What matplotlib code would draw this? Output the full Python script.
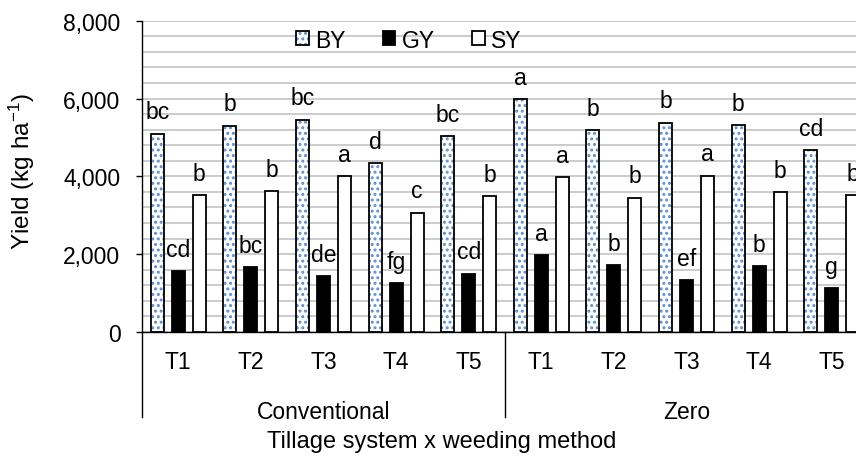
import numpy as np
import matplotlib.pyplot as plt
from matplotlib.patches import Patch

plt.rcParams['font.family'] = ['Liberation Sans', 'DejaVu Sans']
plt.rcParams['mathtext.default'] = 'regular'
plt.rcParams['hatch.linewidth'] = 1.4

# Datos
tillage = ["Conventional", "Zero"]
weeding = ["T1", "T2", "T3", "T4", "T5"]
series = ["BY", "GY", "SY"]

by = [5100, 5300, 5460, 4340, 5030, 5980, 5190, 5380, 5320, 4680]
gy = [1570, 1660, 1440, 1250, 1500, 1980, 1710, 1330, 1700, 1130]
sy = [3520, 3620, 4010, 3070, 3500, 3980, 3450, 4020, 3600, 3520]

by_letters = ["bc", "b", "bc", "d", "bc", "a", "b", "b", "b", "cd"]
gy_letters = ["cd", "bc", "de", "fg", "cd", "a", "b", "ef", "b", "g"]
sy_letters = ["b", "b", "a", "c", "b", "a", "b", "a", "b", "b"]

FS = 16.5
dot_color = "#5b8fd0"
grid_color = "#bfbfbf"

fig = plt.figure(figsize=(8.56, 4.6), dpi=100)
ax = fig.add_axes([142 / 856, 127 / 460, 726 / 856, 311.3 / 460])

x = np.arange(len(by))
w = 0.18
off = [-0.29, 0.0, 0.29]

# BY: puntos azules + borde negro
ax.bar(x + off[0], by, w, color="white", edgecolor=dot_color, hatch="...", linewidth=0, zorder=2)
ax.bar(x + off[0], by, w, color="none", edgecolor="black", linewidth=1.3, zorder=3)
ax.bar(x + off[1], gy, w, color="black", edgecolor="black", linewidth=1.3, zorder=3)
ax.bar(x + off[2], sy, w, color="white", edgecolor="black", linewidth=1.3, zorder=3)

# Letras de significancia
for vals, labs, o in [(by, by_letters, off[0]), (gy, gy_letters, off[1]), (sy, sy_letters, off[2])]:
    for i, (v, lab) in enumerate(zip(vals, labs)):
        ax.annotate(lab, (i + o, v), xytext=(0, 11), textcoords="offset points",
                    ha="center", va="baseline", fontsize=FS, zorder=4)

ax.set_xlim(-0.5, 9.5)
ax.set_ylim(0, 8000)
ax.set_yticks(np.arange(0, 8001, 2000))
ax.set_yticks(np.arange(0, 8001, 400), minor=True)
ax.set_yticklabels([f"{v:,}" for v in range(0, 8001, 2000)], fontsize=FS)
ax.tick_params(axis="y", which="major", length=4.5, width=1, pad=11)
ax.tick_params(axis="y", which="minor", length=0)
ax.grid(axis="y", which="both", color=grid_color, linewidth=1.1)
ax.set_axisbelow(True)

ax.set_xticks([])
for s in ["top", "right"]:
    ax.spines[s].set_visible(False)
ax.spines["left"].set_linewidth(1)
ax.spines["bottom"].set_linewidth(1)

# Eje de categorías en dos niveles
tr = ax.get_xaxis_transform()
for xv in [-0.5, 4.5, 9.5]:
    ax.plot([xv, xv], [0, -0.273], transform=tr, color="black", linewidth=1, clip_on=False)
for i in range(len(by)):
    ax.text(i, -0.095, weeding[i % 5], transform=tr, ha="center", va="center", fontsize=FS)
for j, name in enumerate(tillage):
    ax.text(2 + 5 * j, -0.255, name, transform=tr, ha="center", va="center", fontsize=FS)

fig.text(442 / 856, 1 - 442 / 460, "Tillage system x weeding method", ha="center", va="center", fontsize=FS + 0.5)
fig.text(22 / 856, 1 - 172 / 460, "Yield (kg ha$^{-1}$)", rotation=90, ha="center", va="center", fontsize=FS + 1)

# Leyenda
h_by = (Patch(facecolor="white", edgecolor=dot_color, hatch="...", linewidth=0),
        Patch(facecolor="none", edgecolor="black", linewidth=1.3))
h_gy = Patch(facecolor="black", edgecolor="black", linewidth=1.3)
h_sy = Patch(facecolor="white", edgecolor="black", linewidth=1.3)
fig.legend([h_by, h_gy, h_sy], series, loc="center", bbox_to_anchor=(409 / 856, 1 - 41 / 460),
           ncol=3, frameon=False, fontsize=FS, handlelength=0.55, handleheight=0.55,
           handletextpad=0.3, columnspacing=1.6, borderpad=0)

fig.savefig("out.png", dpi=100)
